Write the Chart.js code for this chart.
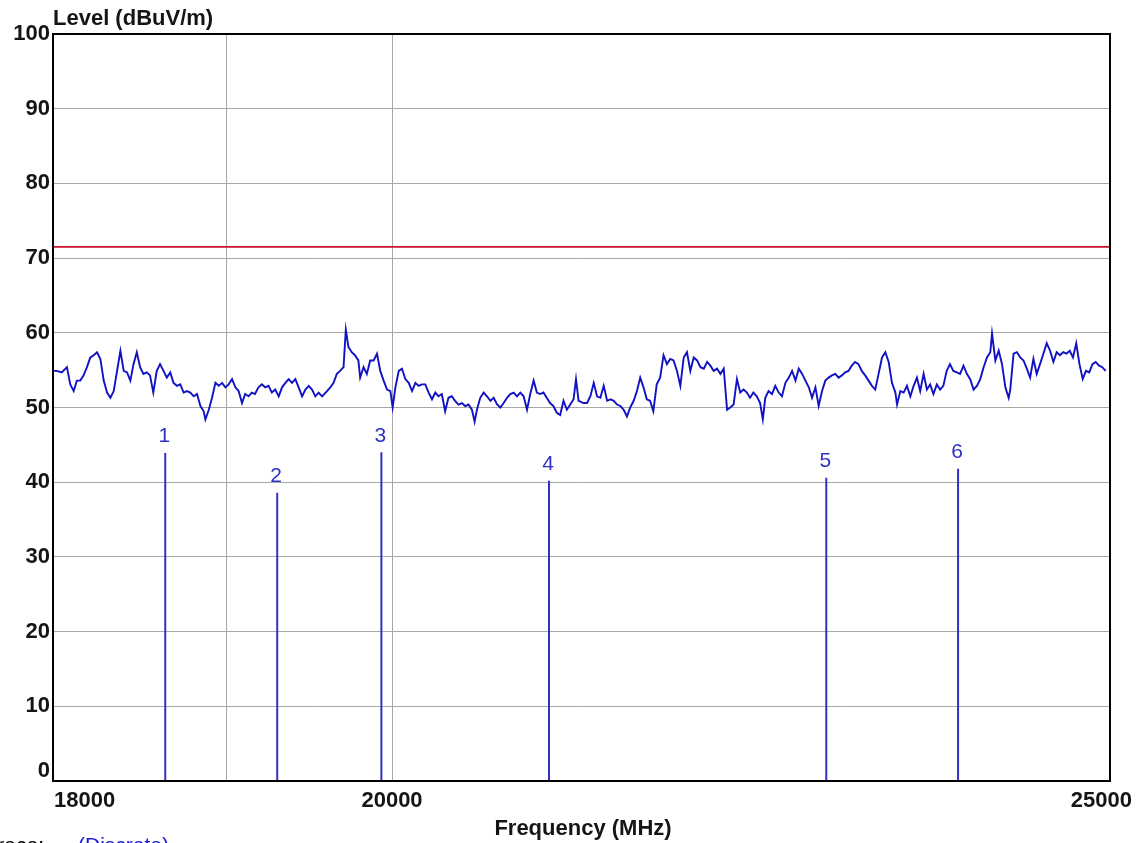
<!DOCTYPE html>
<html lang="en">
  <head>
    <meta charset="utf-8" />
    <title>Level (dBuV/m) vs Frequency (MHz)</title>
    <style>
      * {
        margin: 0;
        padding: 0;
      }
      body {
        background: #fff;
        overflow: hidden;
      }
    </style>
  </head>
  <body>
    <canvas id="myChart" width="1139" height="843"></canvas>

    <script src="https://cdn.jsdelivr.net/npm/chart.js"></script>

    <script>
      // axis ticks
      const xTickValues = [18000, 19000, 20000, 25000];
      const xTickLabels = ["18000", "", "20000", "25000"];
      const yTickValues = [0, 10, 20, 30, 40, 50, 60, 70, 80, 90, 100];

      // limit line (dBuV/m)
      const limitLevel = 71.5;

      // discrete markers
      const markerLabels = ["1", "2", "3", "4", "5", "6"];
      const markerFreq = [18639, 19299, 19934, 21000, 22890, 23847];
      const markerLevel = [43.9, 38.6, 44.0, 40.2, 40.6, 41.8];

      const traceFreq = [
        18000, 18021, 18049, 18078, 18097, 18116, 18134, 18153, 18172, 18191,
        18210, 18229, 18248, 18267, 18286, 18305, 18324, 18343, 18362, 18381,
        18400, 18419, 18438, 18456, 18475, 18494, 18513, 18532, 18551, 18570,
        18590, 18609, 18629, 18648, 18668, 18687, 18707, 18726, 18746, 18765,
        18785, 18805, 18824, 18844, 18863, 18873, 18893, 18912, 18932, 18952,
        18971, 18991, 19010, 19030, 19050, 19069, 19089, 19108, 19128, 19147,
        19166, 19187, 19207, 19227, 19247, 19267, 19287, 19308, 19328, 19348,
        19368, 19388, 19408, 19428, 19449, 19469, 19489, 19509, 19529, 19549,
        19570, 19600, 19620, 19640, 19660, 19680, 19701, 19715, 19731, 19751,
        19771, 19792, 19803, 19824, 19844, 19865, 19886, 19907, 19927, 19948,
        19969, 19990, 20004, 20021, 20042, 20062, 20083, 20104, 20125, 20146,
        20166, 20187, 20208, 20229, 20250, 20271, 20291, 20312, 20333, 20354,
        20375, 20396, 20417, 20439, 20460, 20481, 20503, 20520, 20535, 20556,
        20578, 20599, 20621, 20642, 20664, 20685, 20706, 20728, 20749, 20771,
        20792, 20814, 20835, 20857, 20878, 20900, 20921, 20942, 20964, 20985,
        21007, 21029, 21051, 21073, 21095, 21117, 21139, 21161, 21177, 21194,
        21227, 21250, 21272, 21294, 21316, 21338, 21360, 21383, 21405, 21427,
        21449, 21471, 21493, 21515, 21537, 21560, 21582, 21604, 21626, 21648,
        21670, 21692, 21715, 21738, 21761, 21784, 21806, 21829, 21852, 21875,
        21898, 21920, 21943, 21966, 21989, 22012, 22035, 22058, 22080, 22103,
        22126, 22149, 22172, 22195, 22217, 22240, 22263, 22286, 22309, 22332,
        22354, 22377, 22401, 22424, 22443, 22460, 22483, 22507, 22530, 22554,
        22577, 22601, 22625, 22648, 22672, 22695, 22719, 22742, 22766, 22789,
        22813, 22836, 22860, 22883, 22907, 22930, 22954, 22978, 23001, 23025,
        23048, 23072, 23096, 23120, 23144, 23168, 23193, 23217, 23241, 23265,
        23290, 23314, 23338, 23362, 23387, 23399, 23423, 23447, 23471, 23496,
        23520, 23544, 23568, 23593, 23617, 23641, 23665, 23690, 23714, 23738,
        23763, 23787, 23812, 23837, 23862, 23887, 23912, 23937, 23962, 23987,
        24012, 24037, 24062, 24087, 24100, 24125, 24150, 24175, 24200, 24225,
        24237, 24262, 24287, 24312, 24337, 24362, 24387, 24412, 24437, 24462,
        24488, 24513, 24539, 24564, 24589, 24614, 24639, 24664, 24689, 24714,
        24739, 24764, 24789, 24814, 24839, 24864, 24889, 24915, 24940, 24966,
      ];
      const traceLevel = [
        54.9, 54.9, 54.7, 55.4, 53.1, 52.2, 53.6, 53.6, 54.3, 55.4,
        56.7, 57.0, 57.4, 56.5, 53.6, 52.0, 51.3, 52.2, 54.9, 57.6,
        54.9, 54.7, 53.6, 55.8, 57.4, 55.4, 54.5, 54.7, 54.3, 52.0,
        54.9, 55.8, 54.9, 54.0, 54.7, 53.3, 52.9, 53.1, 52.0, 52.2,
        52.0, 51.5, 51.8, 50.2, 49.5, 48.4, 49.7, 51.3, 53.3, 52.9,
        53.3, 52.7, 53.1, 53.8, 52.7, 52.2, 50.6, 51.8, 51.5, 52.0,
        51.8, 52.7, 53.1, 52.7, 52.9, 52.0, 52.4, 51.5, 52.7, 53.3,
        53.8, 53.3, 53.8, 52.7, 51.5, 52.4, 52.9, 52.4, 51.5, 52.0,
        51.5, 52.2, 52.7, 53.3, 54.5, 54.9, 55.4, 60.4, 58.1, 57.4,
        57.0, 56.3, 54.0, 55.4, 54.5, 56.3, 56.3, 57.2, 54.9, 53.6,
        52.4, 52.2, 50.0, 52.7, 54.9, 55.2, 53.8, 53.3, 52.2, 53.3,
        52.9, 53.1, 53.1, 52.0, 51.1, 52.0, 51.5, 51.8, 49.5, 51.3,
        51.5, 50.9, 50.4, 50.6, 50.2, 50.4, 49.7, 48.1, 49.7, 51.3,
        52.0, 51.5, 50.9, 51.3, 50.4, 50.0, 50.6, 51.3, 51.8, 52.0,
        51.5, 52.0, 51.5, 49.7, 51.8, 53.6, 52.0, 51.8, 52.0, 51.3,
        50.6, 50.2, 49.3, 49.0, 50.9, 49.7, 50.4, 51.1, 53.8, 50.9,
        50.6, 50.6, 51.5, 53.3, 51.5, 51.3, 52.9, 50.9, 51.1, 50.9,
        50.4, 50.2, 49.7, 48.8, 50.0, 50.9, 52.2, 54.0, 52.7, 51.1,
        50.9, 49.5, 53.1, 54.0, 57.0, 55.8, 56.5, 56.3, 54.9, 52.9,
        56.7, 57.4, 54.9, 56.7, 56.3, 55.4, 55.2, 56.1, 55.6, 54.9,
        55.2, 54.5, 55.2, 49.7, 50.0, 50.4, 53.8, 52.0, 52.4, 52.0,
        51.3, 52.0, 51.5, 50.6, 48.4, 51.3, 52.2, 51.8, 52.9, 52.0,
        51.5, 53.3, 54.0, 54.9, 53.6, 55.2, 54.5, 53.6, 52.7, 51.3,
        52.7, 50.2, 52.2, 53.6, 54.0, 54.3, 54.5, 54.0, 54.3, 54.7,
        54.9, 55.6, 56.1, 55.8, 54.9, 54.3, 53.6, 52.9, 52.4, 54.5,
        56.7, 57.4, 56.1, 53.3, 52.0, 50.4, 52.2, 52.0, 52.9, 51.5,
        52.9, 54.0, 52.2, 54.5, 52.4, 53.1, 51.8, 53.1, 52.4, 52.9,
        54.9, 55.8, 54.9, 54.7, 54.5, 55.6, 54.5, 53.8, 52.4, 52.9,
        53.8, 55.4, 56.7, 57.4, 59.9, 56.3, 57.6, 55.8, 52.7, 51.3,
        52.4, 57.2, 57.4, 56.7, 56.3, 55.2, 54.0, 56.5, 54.5, 55.8,
        57.2, 58.6, 57.6, 56.1, 57.4, 57.0, 57.4, 57.2, 57.6, 56.7,
        58.6, 55.8, 53.8, 54.9, 54.7, 55.8, 56.1, 55.6, 55.4, 54.9,
      ];

      const traceColor = "#1010c4";
      const markerColor = "#3030c8";
      const gridColor = "#a8a8a8";
      const textColor = "#151515";

      const datasets = [
        {
          label: "Limit",
          data: [
            { x: 18000, y: limitLevel },
            { x: 25000, y: limitLevel },
          ],
          borderColor: "#c8102c",
          borderWidth: 1.8,
          showLine: true,
          pointRadius: 0,
        },
        {
          label: "Trace",
          data: traceFreq.map((f, i) => ({ x: f, y: traceLevel[i] })),
          borderColor: traceColor,
          borderWidth: 1.9,
          showLine: true,
          pointRadius: 0,
        },
      ];

      // one vertical stick per discrete marker
      markerFreq.forEach((f, i) => {
        datasets.push({
          label: "Marker " + markerLabels[i],
          data: [
            { x: f, y: 0 },
            { x: f, y: markerLevel[i] },
          ],
          borderColor: markerColor,
          borderWidth: 2,
          showLine: true,
          pointRadius: 0,
        });
      });

      // frame, tick labels, titles and marker numbers
      const decorations = {
        id: "decorations",
        afterDraw(chart) {
          const {
            ctx,
            chartArea: { top, bottom, left, right },
            scales: { x, y },
          } = chart;
          ctx.save();

          // frame
          ctx.strokeStyle = "#000";
          ctx.lineWidth = 2;
          ctx.strokeRect(left, top, right - left, bottom - top);

          // y tick labels
          ctx.fillStyle = textColor;
          ctx.font = "bold 22px 'Liberation Sans', Arial, sans-serif";
          ctx.textAlign = "right";
          yTickValues.forEach((v) => {
            if (v === 0) {
              ctx.textBaseline = "bottom";
              ctx.fillText(String(v), left - 3, y.getPixelForValue(v) + 1);
            } else {
              ctx.textBaseline = "middle";
              ctx.fillText(String(v), left - 3, y.getPixelForValue(v));
            }
          });

          // x tick labels
          ctx.textBaseline = "middle";
          xTickValues.forEach((v, i) => {
            const label = xTickLabels[i];
            if (!label) return;
            const px = x.getPixelForValue(v);
            if (i === 0) {
              ctx.textAlign = "left";
              ctx.fillText(label, px + 1, 801);
            } else if (i === xTickValues.length - 1) {
              ctx.textAlign = "right";
              ctx.fillText(label, px + 22, 801);
            } else {
              ctx.textAlign = "center";
              ctx.fillText(label, px, 801);
            }
          });

          // axis titles
          ctx.textAlign = "left";
          ctx.fillText("Level (dBuV/m)", left, 19);
          ctx.textAlign = "center";
          ctx.fillText("Frequency (MHz)", 583, 829);

          // marker numbers
          ctx.fillStyle = markerColor;
          ctx.font = "21px 'Liberation Sans', Arial, sans-serif";
          ctx.textAlign = "center";
          ctx.textBaseline = "bottom";
          markerFreq.forEach((f, i) => {
            ctx.fillText(
              markerLabels[i],
              x.getPixelForValue(f) - 1,
              y.getPixelForValue(markerLevel[i]) - 6
            );
          });

          // trace note (cut by the page edge)
          ctx.font = "21px 'Liberation Sans', Arial, sans-serif";
          ctx.textBaseline = "alphabetic";
          ctx.textAlign = "right";
          ctx.fillStyle = "#000";
          ctx.fillText("Trace:", 44, 852);
          ctx.textAlign = "left";
          ctx.fillStyle = "#1a1ad8";
          ctx.fillText("(Discrete)", 78, 852);

          ctx.restore();
        },
      };

      const config = {
        type: "scatter",
        data: { datasets },
        options: {
          responsive: false,
          animation: false,
          layout: {
            padding: { left: 53, top: 34, right: 29, bottom: 62 },
          },
          plugins: {
            legend: { display: false },
            tooltip: { enabled: false },
          },
          elements: { line: { tension: 0 } },
          scales: {
            x: {
              type: "logarithmic",
              min: 18000,
              max: 25000,
              afterBuildTicks: (scale) => {
                scale.ticks = xTickValues.map((v) => ({ value: v }));
              },
              ticks: { display: false },
              border: { display: false },
              grid: {
                drawTicks: false,
                color: (c) =>
                  c.tick && (c.tick.value === 19000 || c.tick.value === 20000)
                    ? gridColor
                    : "rgba(0,0,0,0)",
                lineWidth: 1,
              },
            },
            y: {
              min: 0,
              max: 100,
              afterBuildTicks: (scale) => {
                scale.ticks = yTickValues.map((v) => ({ value: v }));
              },
              ticks: { display: false },
              border: { display: false },
              grid: {
                drawTicks: false,
                color: gridColor,
                lineWidth: 1,
              },
            },
          },
        },
        plugins: [decorations],
      };

      const ctx = document.getElementById("myChart");
      const myChart = new Chart(ctx, config);
    </script>
  </body>
</html>
